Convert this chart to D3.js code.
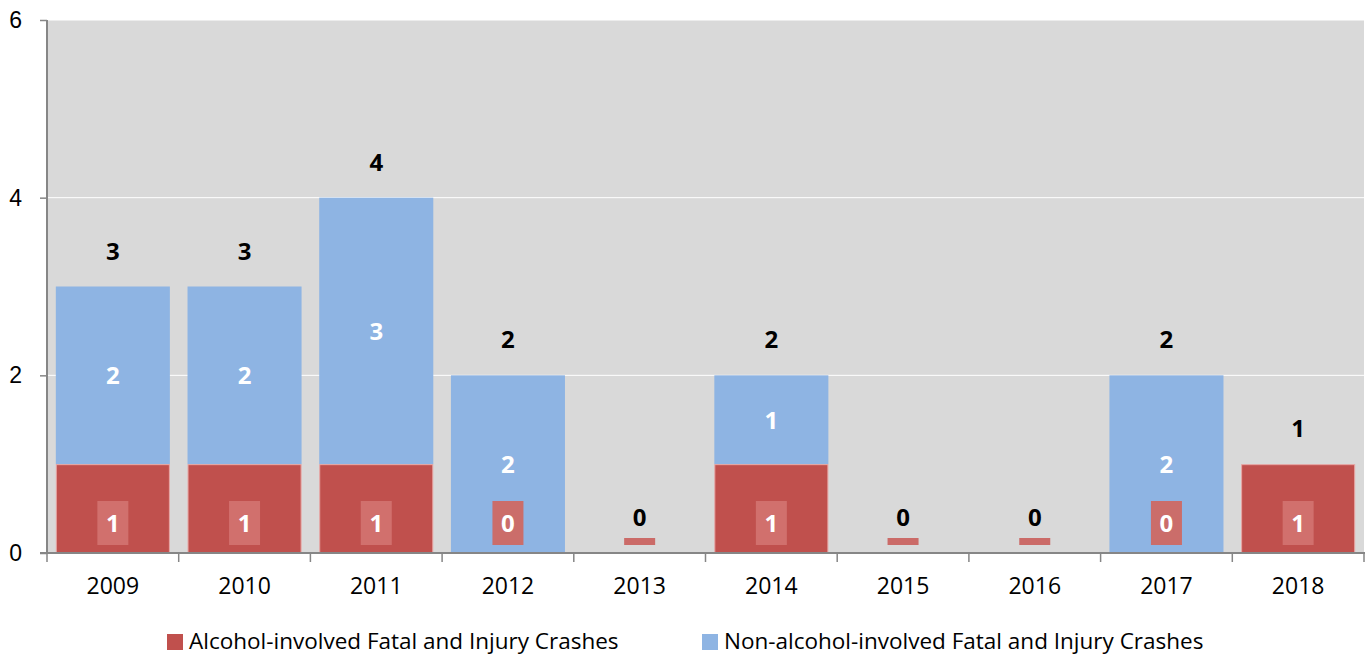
<!DOCTYPE html>
<html><head><meta charset="utf-8">
<script src="https://cdn.jsdelivr.net/npm/d3@7"></script>
<style>body{margin:0;background:#fff;}svg{display:block;font-family:"Open Sans","Noto Sans",sans-serif;}</style>
</head><body><svg id="c" width="1365" height="656"></svg>
<script>
const categories = ["2009","2010","2011","2012","2013","2014","2015","2016","2017","2018"];
const alcohol = [1,1,1,0,0,1,0,0,0,1];
const nonAlcohol = [2,2,3,2,0,1,0,0,2,0];
const totals = [3,3,4,2,0,2,0,0,2,1];
const yTicks = [0,2,4,6];
const seriesNames = ["Alcohol-involved Fatal and Injury Crashes","Non-alcohol-involved Fatal and Injury Crashes"];

(function(){
const RED = "#C0504D", BLUE = "#8EB4E3", BG = "#D9D9D9", AX = "#868686";
const svg = d3.select("#c");
const pL = 47, pR = 1364, pT = 20, pB = 553;
const x = d3.scaleBand().domain(categories).range([pL, pR]).paddingInner(0.134).paddingOuter(0.067);
const y = d3.scaleLinear().domain([0,6]).range([pB, pT]);

svg.append("rect").attr("x", pL).attr("y", pT).attr("width", pR-pL).attr("height", pB-pT).attr("fill", BG);
svg.append("g").selectAll("line").data(yTicks.filter(d=>d>0)).join("line")
  .attr("x1", pL).attr("x2", pR).attr("y1", d=>y(d)).attr("y2", d=>y(d)).attr("stroke","#fff").attr("stroke-width",1);

const data = categories.map((c,i)=>({c, a: alcohol[i], n: nonAlcohol[i], t: totals[i]}));
const g = svg.append("g");
g.selectAll(".nb").data(data.filter(d=>d.n>0)).join("rect")
  .attr("x", d=>x(d.c)).attr("width", x.bandwidth())
  .attr("y", d=>y(d.a+d.n)).attr("height", d=>y(d.a)-y(d.a+d.n)).attr("fill", BLUE);
g.selectAll(".ab").data(data.filter(d=>d.a>0)).join("rect")
  .attr("x", d=>x(d.c)+0.5).attr("width", x.bandwidth()-1)
  .attr("y", d=>y(d.a)+0.5).attr("height", d=>y(0)-y(d.a)-1).attr("fill", RED)
  .attr("stroke","#E8A6A4").attr("stroke-width",1);

const yAxis = d3.axisLeft(y).tickValues(yTicks).tickSize(7).tickPadding(12).tickFormat(d3.format("d"));
const ya = svg.append("g").attr("transform",`translate(${pL},0)`).call(yAxis);
ya.select(".domain").attr("stroke",AX).attr("stroke-width",2).attr("d",`M0,${pT}V${pB+1}`);
ya.selectAll(".tick line").attr("stroke",AX).attr("stroke-width",1.5);
ya.selectAll("text").attr("font-size",23).attr("fill","#000").attr("x",-25).attr("text-anchor","end");

const xa = svg.append("g").attr("transform",`translate(0,${pB})`);
xa.append("line").attr("x1",pL-7).attr("x2",pR+1).attr("y1",0).attr("y2",0).attr("stroke",AX).attr("stroke-width",2);
const step = x.step();
const bounds = d3.range(categories.length+1).map(i=>pL + i*step);
xa.selectAll(".xt").data(bounds).join("line").attr("x1",d=>d).attr("x2",d=>d).attr("y1",0).attr("y2",9).attr("stroke",AX).attr("stroke-width",1.5);
xa.selectAll(".xl").data(categories).join("text").attr("x",d=>x(d)+x.bandwidth()/2).attr("y",41)
  .attr("text-anchor","middle").attr("font-size",23).attr("fill","#000").text(d=>d);

const lab = svg.append("g").attr("font-weight","bold").attr("font-size",24).attr("text-anchor","middle");
lab.selectAll(".tl").data(data).join("text").attr("x",d=>x(d.c)+x.bandwidth()/2).attr("y",d=>y(d.t)-27)
  .attr("fill","#000").text(d=>d.t);
lab.selectAll(".nl").data(data.filter(d=>d.n>0)).join("text").attr("x",d=>x(d.c)+x.bandwidth()/2)
  .attr("y",d=>y(d.a+d.n/2)+9).attr("fill","#fff").text(d=>d.n);
const boxW = 31;
data.forEach(d=>{
  const cx = x(d.c)+x.bandwidth()/2;
  if (d.t === 0) {
    lab.append("rect").attr("x",cx-boxW/2).attr("y",y(0)-15).attr("width",boxW).attr("height",7).attr("fill","#CB6B68");
  } else {
    lab.append("rect").attr("x",cx-boxW/2).attr("y",y(0)-52).attr("width",boxW).attr("height",44)
      .attr("fill", d.a>0 ? "rgba(230,150,148,0.45)" : "#CB6D6A");
    lab.append("text").attr("x",cx).attr("y",y(0)-21).attr("fill","#fff").text(d.a);
  }
});

const leg = svg.append("g");
const legItems = [{name: seriesNames[0], color: RED, x: 167},{name: seriesNames[1], color: BLUE, x: 702}];
legItems.forEach(it=>{
  leg.append("rect").attr("x",it.x).attr("y",634).attr("width",16).attr("height",16).attr("fill",it.color);
  leg.append("text").attr("x",it.x+22).attr("y",649).attr("font-size",22.5).attr("fill","#000").text(it.name);
});
})();
</script></body></html>
